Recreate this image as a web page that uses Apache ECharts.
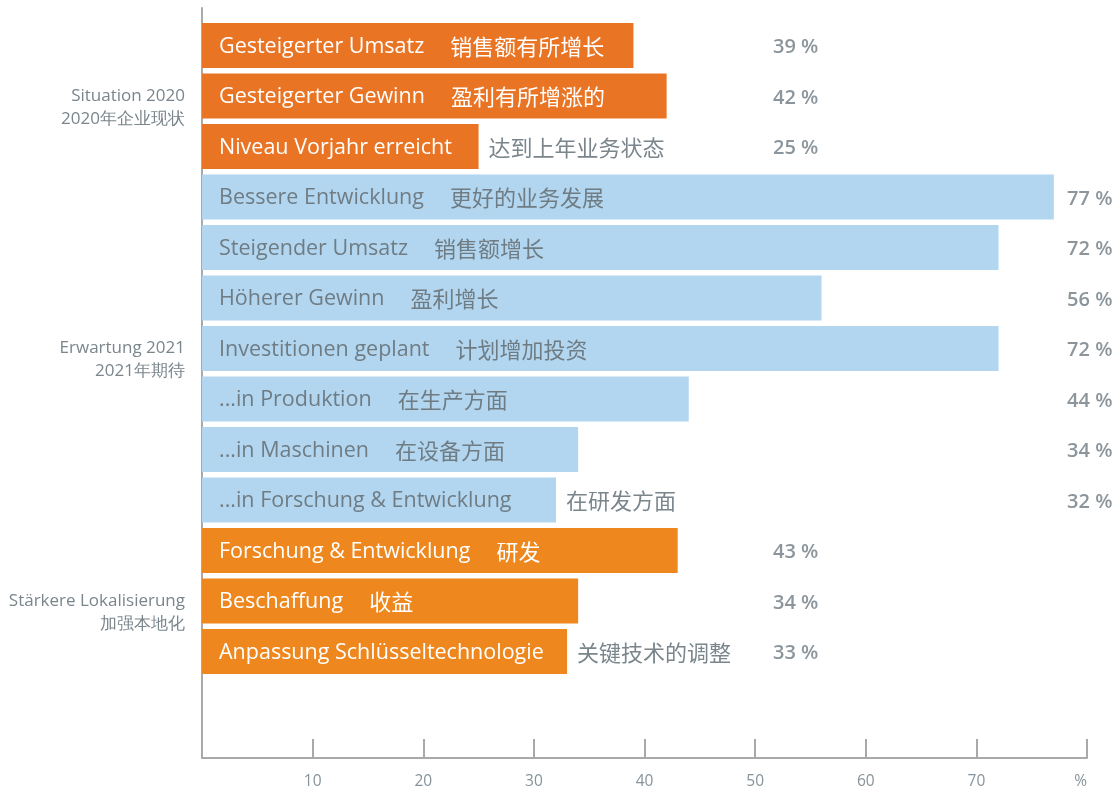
<!DOCTYPE html>
<html>
<head>
<meta charset="utf-8">
<title>Situation 2020 / Erwartung 2021</title>
<script src="https://cdn.jsdelivr.net/npm/echarts@6/dist/echarts.min.js"></script>
<style>
  html, body { margin: 0; padding: 0; background: #fff; }
  #chart { width: 1119px; height: 791px; }
</style>
</head>
<body>
<div id="chart"></div>
<script>
// data
const labelsDe = [
  'Gesteigerter Umsatz', 'Gesteigerter Gewinn', 'Niveau Vorjahr erreicht',
  'Bessere Entwicklung', 'Steigender Umsatz', 'Höherer Gewinn', 'Investitionen geplant',
  '...in Produktion', '...in Maschinen', '...in Forschung & Entwicklung',
  'Forschung & Entwicklung', 'Beschaffung', 'Anpassung Schlüsseltechnologie'
]
const labelsCn = [
  '销售额有所增长', '盈利有所增涨的', '达到上年业务状态',
  '更好的业务发展', '销售额增长', '盈利增长', '计划增加投资',
  '在生产方面', '在设备方面', '在研发方面',
  '研发', '收益', '关键技术的调整'
]
const values = [39, 42, 25, 77, 72, 56, 72, 44, 34, 32, 43, 34, 33]
const groupOf = [0, 0, 0, 1, 1, 1, 1, 1, 1, 1, 2, 2, 2]
const groupNames = [
  ['Situation 2020', '2020年企业现状'],
  ['Erwartung 2021', '2021年期待'],
  ['Stärkere Lokalisierung', '加强本地化']
]

// styles
const barColors = ['#E97424', '#B2D6F0', '#EE881E']
const insideText = ['#ffffff', '#6F7C83', '#ffffff']
const greyText = '#7A868C'
const valueColumn = [53.66, 80.25, 53.66]
const fontDe = '"Open Sans", "Noto Sans", sans-serif'
const fontCn = '"Noto Sans CJK SC", sans-serif'
const DE_SIZE = 21.5
const CN_SIZE = 22
const X_MAX = 80
const GRID_LEFT = 202
const GRID_RIGHT = 32
const LABEL_PAD = 17
const CN_GAP = 26
const OUTSIDE_GAP = 10

const chartEl = document.getElementById('chart')
const plotWidth = 1119 - GRID_LEFT - GRID_RIGHT

// measure text to decide if the chinese part still fits inside the bar
const ctx = document.createElement('canvas').getContext('2d')
const textWidth = (txt, font) => { ctx.font = font; return ctx.measureText(txt).width }

// group label sits on the middle bar of each group
const groupMid = groupNames.map((g, gi) => {
  const idx = groupOf.map((v, i) => v === gi ? i : -1).filter(i => i >= 0)
  return idx[Math.floor(idx.length / 2)]
})

const barData = values.map((v, i) => {
  const g = groupOf[i]
  const barLen = v / X_MAX * plotWidth
  const deW = textWidth(labelsDe[i], DE_SIZE + 'px ' + fontDe)
  const end = LABEL_PAD + deW + CN_GAP + textWidth(labelsCn[i], CN_SIZE + 'px ' + fontCn)
  const inside = end <= barLen - 4
  const gap = inside ? CN_GAP : Math.max(CN_GAP, barLen + OUTSIDE_GAP - LABEL_PAD - deW)
  return {
    value: v,
    itemStyle: { color: barColors[g] },
    label: {
      rich: {
        de: { color: insideText[g], fontSize: DE_SIZE, fontFamily: fontDe },
        cn: {
          color: inside ? insideText[g] : greyText,
          fontSize: CN_SIZE,
          fontFamily: fontCn,
          padding: [0, 0, 0, gap]
        }
      }
    }
  }
})

const valueData = values.map((v, i) => ({ value: [valueColumn[groupOf[i]], i], pct: v }))

const myChart = echarts.init(chartEl)

const option = {
  animation: false,
  grid: [
    { left: GRID_LEFT, right: GRID_RIGHT, top: 20.25, bottom: 114.25 },
    { left: GRID_LEFT, right: GRID_RIGHT, top: 8, bottom: 33 }
  ],
  xAxis: [
    { gridIndex: 0, type: 'value', min: 0, max: X_MAX, show: false },
    {
      gridIndex: 1,
      type: 'value',
      min: 0,
      max: X_MAX,
      interval: 10,
      axisLine: { show: true, lineStyle: { color: '#A9A9A9', width: 2 } },
      axisTick: { show: true, inside: true, length: 19, lineStyle: { color: '#A9A9A9', width: 2 } },
      splitLine: { show: false },
      axisLabel: {
        color: '#87939A',
        fontSize: 15.5,
        fontFamily: fontDe,
        margin: 16,
        alignMaxLabel: 'right',
        formatter: v => v === 0 ? '' : (v === X_MAX ? '%' : String(v))
      }
    }
  ],
  yAxis: [
    {
      gridIndex: 0,
      type: 'category',
      inverse: true,
      data: labelsDe,
      axisLine: { show: false },
      axisTick: { show: false },
      axisLabel: {
        interval: 0,
        margin: 17,
        color: greyText,
        fontSize: 17,
        lineHeight: 23,
        fontFamily: fontDe,
        formatter: (val, idx) => {
          const gi = groupMid.indexOf(idx)
          return gi < 0 ? '' : '\n' + groupNames[gi][0] + '\n' + groupNames[gi][1]
        }
      }
    },
    {
      gridIndex: 1,
      type: 'value',
      axisLine: { show: true, lineStyle: { color: '#A9A9A9', width: 2 } },
      axisTick: { show: false },
      axisLabel: { show: false },
      splitLine: { show: false }
    }
  ],
  series: [
    {
      type: 'bar',
      xAxisIndex: 0,
      yAxisIndex: 0,
      barWidth: 45,
      data: barData,
      label: {
        show: true,
        position: 'insideLeft',
        distance: LABEL_PAD,
        offset: [0, 1],
        formatter: p => '{de|' + labelsDe[p.dataIndex] + '}{cn|' + labelsCn[p.dataIndex] + '}'
      }
    },
    {
      type: 'scatter',
      xAxisIndex: 0,
      yAxisIndex: 0,
      clip: false,
      symbolSize: 1,
      itemStyle: { color: 'rgba(0,0,0,0)' },
      data: valueData,
      label: {
        show: true,
        position: 'inside',
        offset: [0, 2],
        color: '#6E7B82',
        fontSize: 20,
        fontWeight: 600,
        fontFamily: fontDe,
        formatter: p => p.data.pct + ' %'
      }
    }
  ]
}

myChart.setOption(option)

window.addEventListener('resize', () => {
  myChart.resize()
})
</script>
</body>
</html>
